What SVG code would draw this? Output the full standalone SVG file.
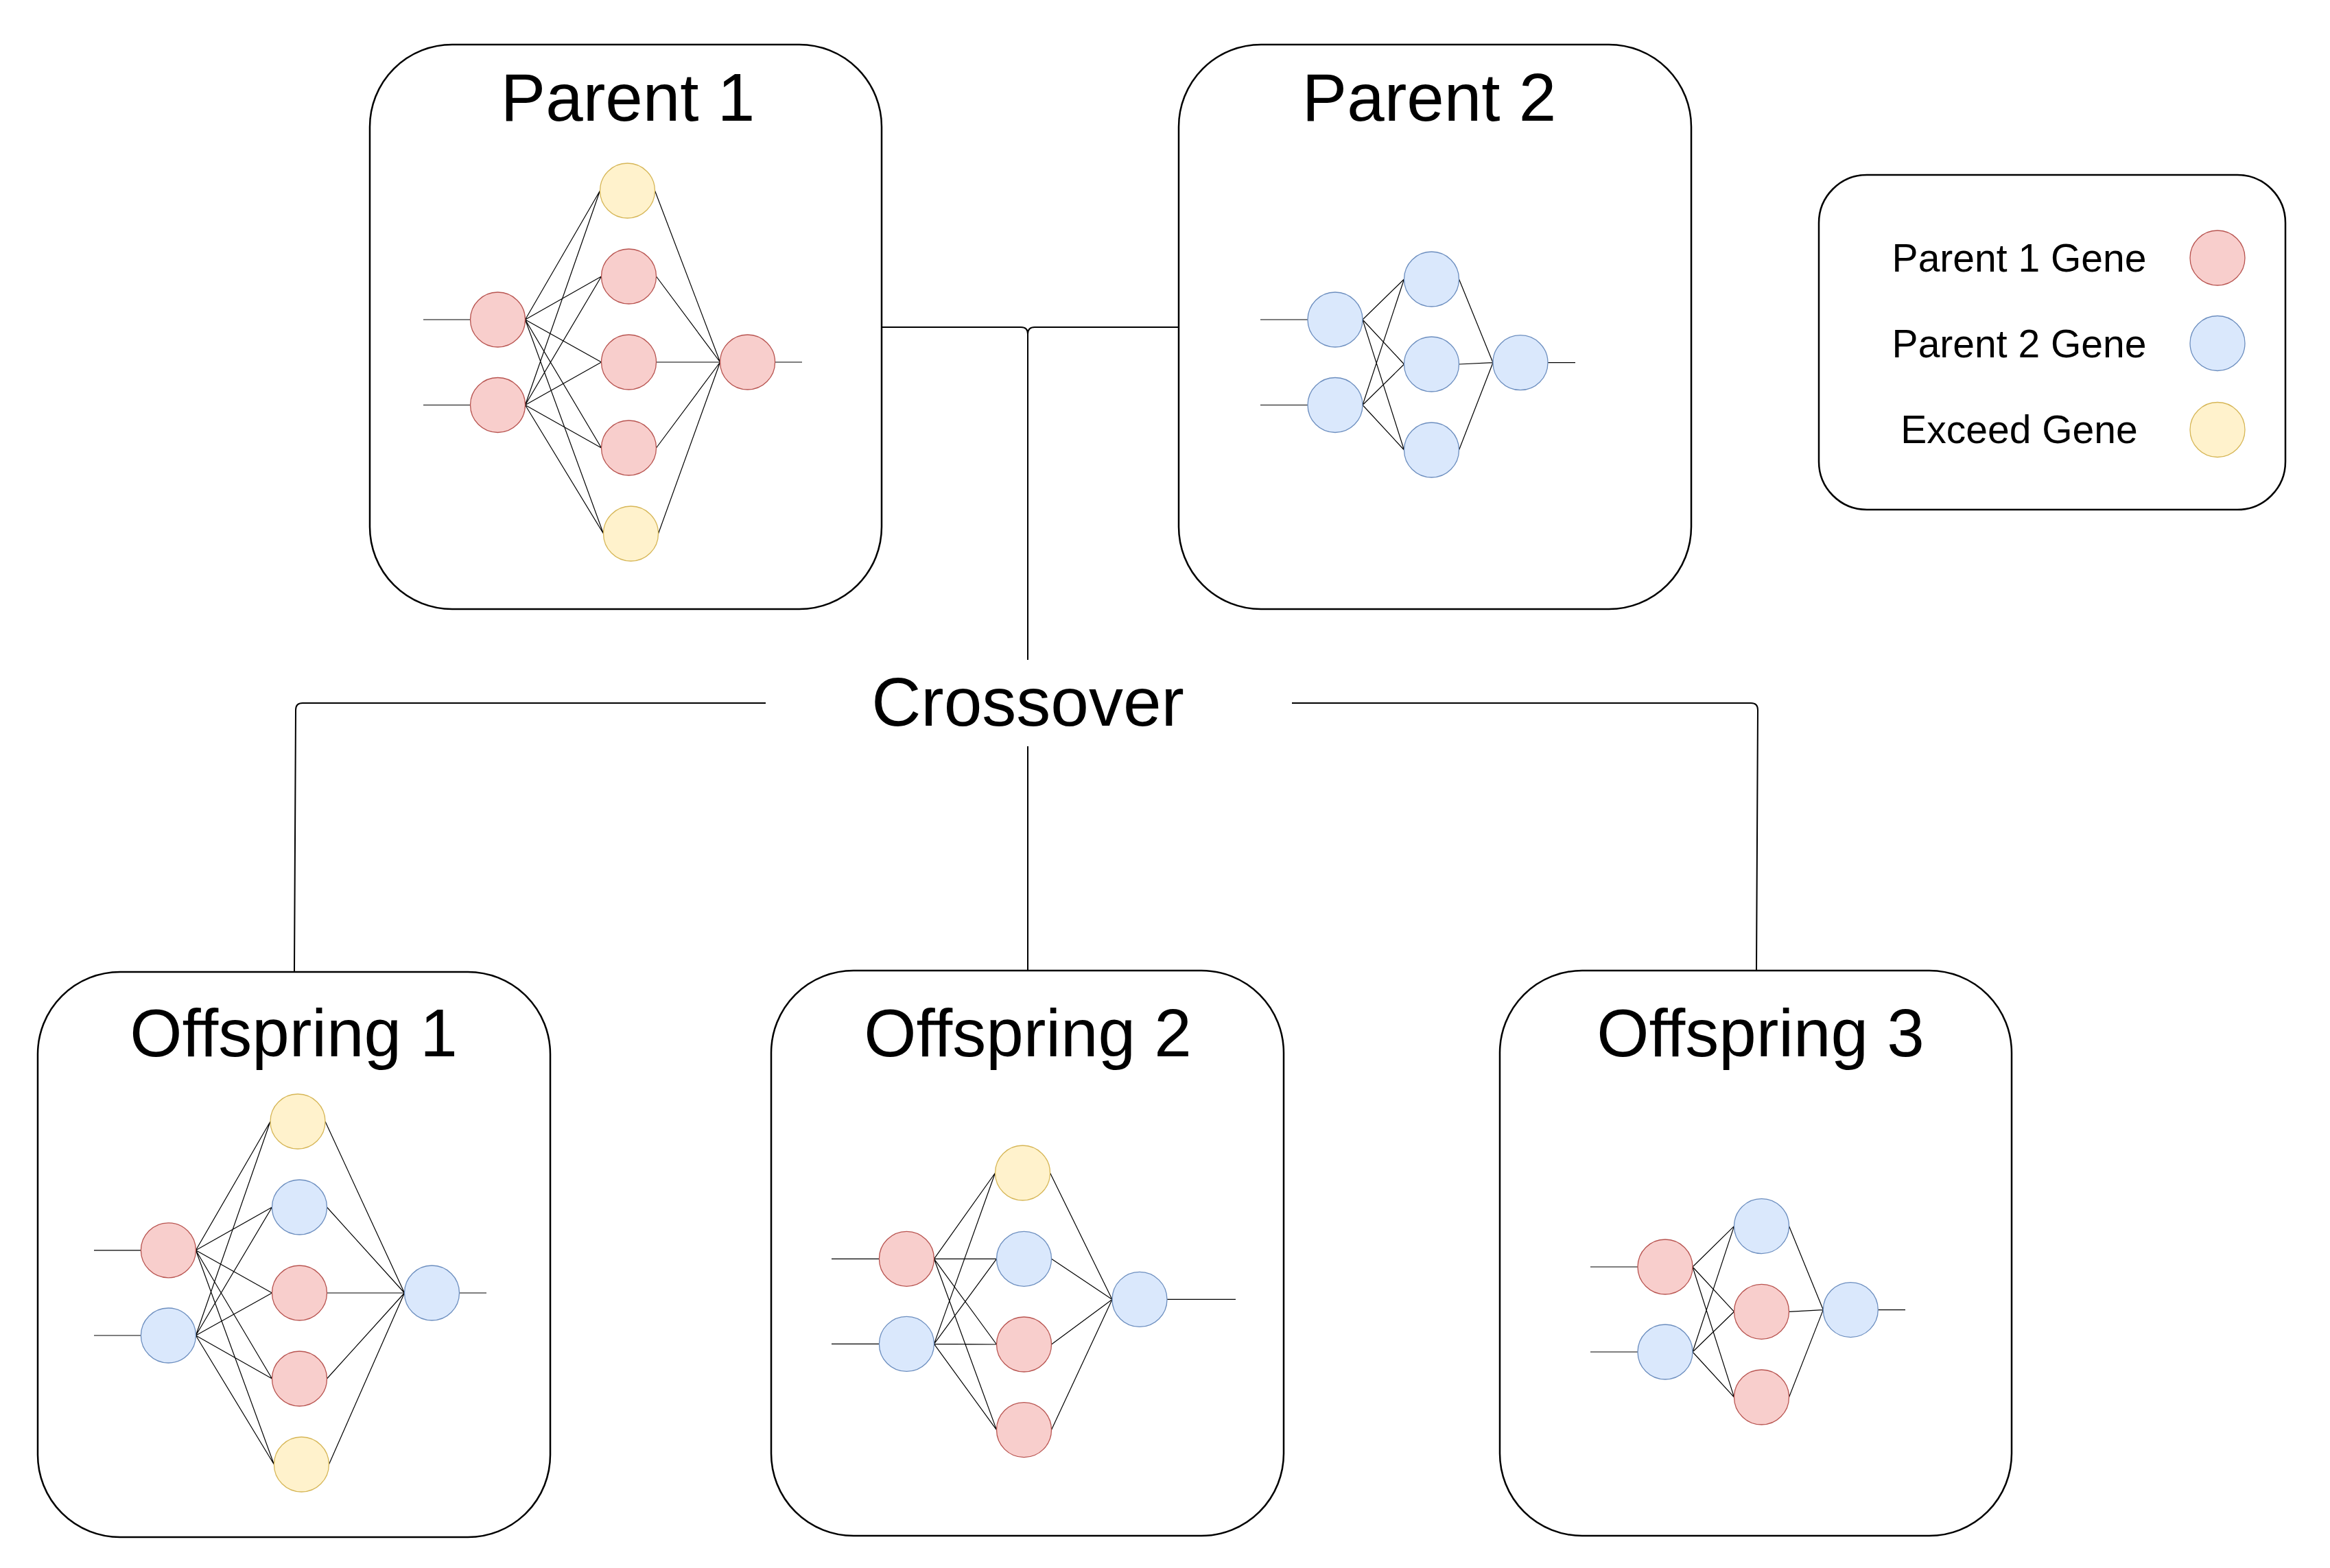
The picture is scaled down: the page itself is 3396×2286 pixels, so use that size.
<svg xmlns="http://www.w3.org/2000/svg" width="3396" height="2286" viewBox="0 0 3396 2286">
<style>
.box{fill:#fff;stroke:#000;stroke-width:2.5}
.conn{fill:none;stroke:#000;stroke-width:2}
.w{fill:none;stroke:#000;stroke-width:1.2}
.r{fill:#f8cecc;stroke:#b85450;stroke-width:1.3}
.b{fill:#dae8fc;stroke:#6c8ebf;stroke-width:1.3}
.y{fill:#fff2cc;stroke:#d6b656;stroke-width:1.3}
.t{font-family:"Liberation Sans",Arial,Helvetica,sans-serif;font-size:98px;fill:#000;text-anchor:middle}
.c{font-family:"Liberation Sans",Arial,Helvetica,sans-serif;font-size:100px;fill:#000;text-anchor:middle}
.lt{font-family:"Liberation Sans",Arial,Helvetica,sans-serif;font-size:57px;fill:#000;text-anchor:middle}
</style>
<rect width="3396" height="2286" fill="#fff"/>
<g id="connectors">
<path class="conn" d="M1285,477 H1488 Q1498,477 1498,487 V962"/>
<path class="conn" d="M1718,477 H1508 Q1498,477 1498,487"/>
<path class="conn" d="M1116,1025 H441 Q431,1025 431,1035 L429,1417"/>
<path class="conn" d="M1883,1025 H2552 Q2562,1025 2562,1035 L2560,1415"/>
<path class="conn" d="M1498,1088 V1415"/>
</g>
<g id="crossover">
<text class="c" x="1498" y="1058">Crossover</text>
</g>
<g id="parent1">
<rect class="box" x="539" y="65" width="746" height="823" rx="120" ry="120"/>
<text class="t" x="915" y="176">Parent 1</text>
<path class="w" d="M617,466 H685.5 M617,590.5 H685.5 M1129.6,528 H1169
M765.5,466 L874.5,278 M765.5,466 L876.5,403 M765.5,466 L876.5,528 M765.5,466 L876.5,653 M765.5,466 L879.5,778
M765.5,590.5 L874.5,278 M765.5,590.5 L876.5,403 M765.5,590.5 L876.5,528 M765.5,590.5 L876.5,653 M765.5,590.5 L879.5,778
M954.5,278 L1049.6,528 M956.5,403 L1049.6,528 M956.5,528 L1049.6,528 M956.5,653 L1049.6,528 M959.5,778 L1049.6,528"/>
<ellipse class="r" cx="725.5" cy="466" rx="40" ry="40"/>
<ellipse class="r" cx="725.5" cy="590.5" rx="40" ry="40"/>
<ellipse class="y" cx="914.5" cy="278" rx="40" ry="40"/>
<ellipse class="r" cx="916.5" cy="403" rx="40" ry="40"/>
<ellipse class="r" cx="916.5" cy="528" rx="40" ry="40"/>
<ellipse class="r" cx="916.5" cy="653" rx="40" ry="40"/>
<ellipse class="y" cx="919.5" cy="778" rx="40" ry="40"/>
<ellipse class="r" cx="1089.6" cy="528" rx="40" ry="40"/>
</g>
<g id="parent2">
<rect class="box" x="1718" y="65" width="747" height="823" rx="120" ry="120"/>
<text class="t" x="2083" y="176">Parent 2</text>
<path class="w" d="M1837,466 H1906 M1837,590.5 H1906 M2256,528.7 H2296
M1986,466 L2046.5,407 M1986,466 L2046.5,531 M1986,466 L2046.5,656
M1986,590.5 L2046.5,407 M1986,590.5 L2046.5,531 M1986,590.5 L2046.5,656
M2126.5,407 L2176,528.7 M2126.5,531 L2176,528.7 M2126.5,656 L2176,528.7"/>
<ellipse class="b" cx="1946" cy="466" rx="40" ry="40"/>
<ellipse class="b" cx="1946" cy="590.5" rx="40" ry="40"/>
<ellipse class="b" cx="2086.5" cy="407" rx="40" ry="40"/>
<ellipse class="b" cx="2086.5" cy="531" rx="40" ry="40"/>
<ellipse class="b" cx="2086.5" cy="656" rx="40" ry="40"/>
<ellipse class="b" cx="2216" cy="528.7" rx="40" ry="40"/>
</g>
<g id="legend">
<rect class="box" x="2651" y="255" width="680" height="488" rx="70" ry="70"/>
<text class="lt" x="2943" y="396">Parent 1 Gene</text>
<text class="lt" x="2943" y="521">Parent 2 Gene</text>
<text class="lt" x="2943" y="646">Exceed Gene</text>
<ellipse class="r" cx="3232" cy="376" rx="40" ry="40"/>
<ellipse class="b" cx="3232" cy="500.5" rx="40" ry="40"/>
<ellipse class="y" cx="3232" cy="626.5" rx="40" ry="40"/>
</g>
<g id="offspring1">
<rect class="box" x="55" y="1417" width="747" height="824" rx="120" ry="120"/>
<text class="t" x="428" y="1540">Offspring 1</text>
<path class="w" d="M137,1822.8 H205.4 M137,1947 H205.4 M669.5,1885 H709
M285.4,1822.8 L394,1635 M285.4,1822.8 L396.5,1760 M285.4,1822.8 L396.5,1885 M285.4,1822.8 L396.5,2010 M285.4,1822.8 L399.4,2135
M285.4,1947 L394,1635 M285.4,1947 L396.5,1760 M285.4,1947 L396.5,1885 M285.4,1947 L396.5,2010 M285.4,1947 L399.4,2135
M474,1635 L589.5,1885 M476.5,1760 L589.5,1885 M476.5,1885 L589.5,1885 M476.5,2010 L589.5,1885 M479.4,2135 L589.5,1885"/>
<ellipse class="r" cx="245.4" cy="1822.8" rx="40" ry="40"/>
<ellipse class="b" cx="245.4" cy="1947" rx="40" ry="40"/>
<ellipse class="y" cx="434" cy="1635" rx="40" ry="40"/>
<ellipse class="b" cx="436.5" cy="1760" rx="40" ry="40"/>
<ellipse class="r" cx="436.5" cy="1885" rx="40" ry="40"/>
<ellipse class="r" cx="436.5" cy="2010" rx="40" ry="40"/>
<ellipse class="y" cx="439.4" cy="2135" rx="40" ry="40"/>
<ellipse class="b" cx="629.5" cy="1885" rx="40" ry="40"/>
</g>
<g id="offspring2">
<rect class="box" x="1124" y="1415" width="747" height="824" rx="120" ry="120"/>
<text class="t" x="1498" y="1540">Offspring 2</text>
<path class="w" d="M1212,1835.3 H1281.4 M1212,1959.4 H1281.4 M1701,1894.4 H1801
M1361.4,1835.3 L1450.5,1710 M1361.4,1835.3 L1452.5,1835.3 M1361.4,1835.3 L1452.5,1960 M1361.4,1835.3 L1452.5,2084.6
M1361.4,1959.4 L1450.5,1710 M1361.4,1959.4 L1452.5,1835.3 M1361.4,1959.4 L1452.5,1960 M1361.4,1959.4 L1452.5,2084.6
M1530.5,1710 L1621,1894.4 M1532.5,1835.3 L1621,1894.4 M1532.5,1960 L1621,1894.4 M1532.5,2084.6 L1621,1894.4"/>
<ellipse class="r" cx="1321.4" cy="1835.3" rx="40" ry="40"/>
<ellipse class="b" cx="1321.4" cy="1959.4" rx="40" ry="40"/>
<ellipse class="y" cx="1490.5" cy="1710" rx="40" ry="40"/>
<ellipse class="b" cx="1492.5" cy="1835.3" rx="40" ry="40"/>
<ellipse class="r" cx="1492.5" cy="1960" rx="40" ry="40"/>
<ellipse class="r" cx="1492.5" cy="2084.6" rx="40" ry="40"/>
<ellipse class="b" cx="1661" cy="1894.4" rx="40" ry="40"/>
</g>
<g id="offspring3">
<rect class="box" x="2186" y="1415" width="746" height="824" rx="120" ry="120"/>
<text class="t" x="2566" y="1540">Offspring 3</text>
<path class="w" d="M2318,1847 H2387 M2318,1971 H2387 M2737.3,1909.6 H2777
M2467,1847 L2527.5,1787.6 M2467,1847 L2527.5,1912.3 M2467,1847 L2527.5,2037
M2467,1971 L2527.5,1787.6 M2467,1971 L2527.5,1912.3 M2467,1971 L2527.5,2037
M2607.5,1787.6 L2657.3,1909.6 M2607.5,1912.3 L2657.3,1909.6 M2607.5,2037 L2657.3,1909.6"/>
<ellipse class="r" cx="2427" cy="1847" rx="40" ry="40"/>
<ellipse class="b" cx="2427" cy="1971" rx="40" ry="40"/>
<ellipse class="b" cx="2567.5" cy="1787.6" rx="40" ry="40"/>
<ellipse class="r" cx="2567.5" cy="1912.3" rx="40" ry="40"/>
<ellipse class="r" cx="2567.5" cy="2037" rx="40" ry="40"/>
<ellipse class="b" cx="2697.3" cy="1909.6" rx="40" ry="40"/>
</g>
</svg>
